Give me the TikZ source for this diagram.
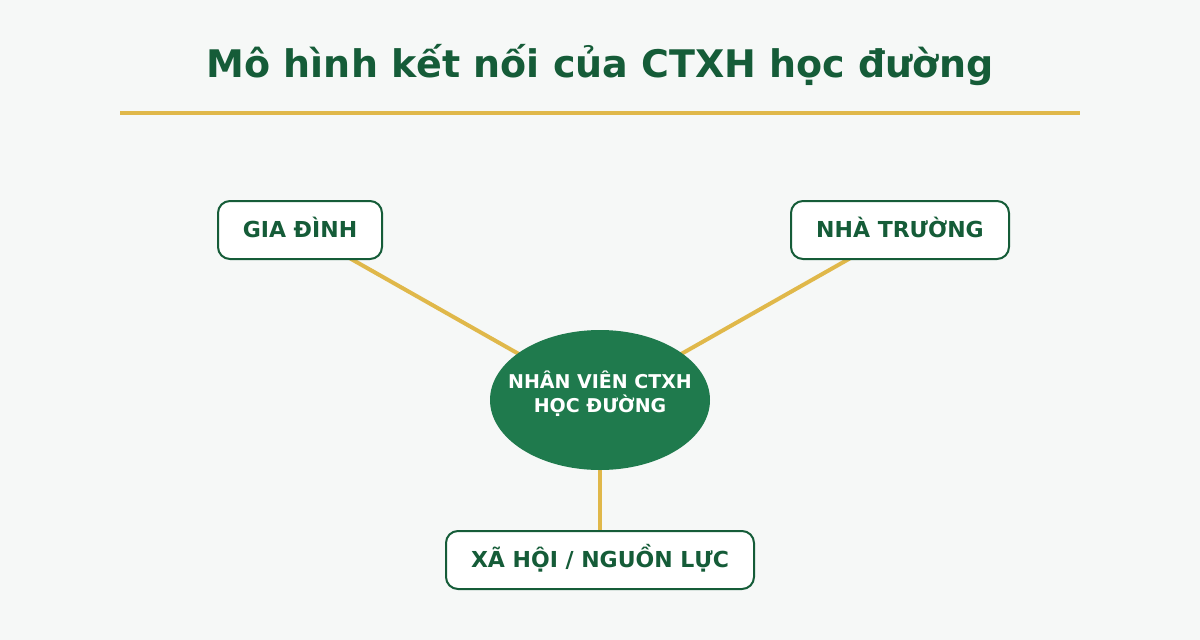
\documentclass[tikz,border=0pt]{standalone}
\usepackage{fontspec}
\setmainfont{DejaVu Sans}
\usetikzlibrary{shapes.geometric,backgrounds}
\pgfdeclarelayer{canvas}
\pgfsetlayers{canvas,background,main}
\definecolor{bg}{HTML}{F6F8F7}
\definecolor{dgreen}{HTML}{155C38}
\definecolor{mgreen}{HTML}{1F7A4D}
\definecolor{gold}{HTML}{E0B84A}
\begin{document}
\begin{tikzpicture}[x=1pt,y=-1pt,
  boxnode/.style={draw=dgreen,line width=2pt,fill=white,rounded corners=12pt,
    minimum height=58pt,inner sep=0pt,text=dgreen,text height=16pt,text depth=2pt,
    font=\fontsize{22}{26}\selectfont\bfseries},
  ctext/.style={text=white,anchor=base,inner sep=0pt,font=\fontsize{19}{24}\selectfont\bfseries},
  link/.style={draw=gold,line width=4pt}]
\begin{pgfonlayer}{canvas}
\fill[bg] (0,0) rectangle (1200,640);
\end{pgfonlayer}
\useasboundingbox (0,0) rectangle (1200,640);
\node[text=dgreen,font=\fontsize{38}{44}\selectfont\bfseries] (title) at (600,65) {Mô hình kết nối của CTXH học đường};
\coordinate (rl) at (120,113);
\coordinate (rr) at (1080,113);
\draw[gold,line width=3.5pt] (rl) -- (rr);
\node[boxnode,minimum width=164pt] (gia) at (300,230) {GIA ĐÌNH};
\node[boxnode,minimum width=218pt] (nha) at (900,230) {NHÀ TRƯỜNG};
\node[boxnode,minimum width=308pt] (xa) at (600,560) {XÃ HỘI / NGUỒN LỰC};
\node[ellipse,fill=mgreen,minimum width=220pt,minimum height=140pt,inner sep=0pt] (emp) at (600,400) {};
\node[ctext] (emptext1) at (600,388) {NHÂN VIÊN CTXH};
\node[ctext] (emptext2) at (600,412) {HỌC ĐƯỜNG};
\begin{scope}[on background layer]
\draw[link] (emp.center) -- (gia.center);
\draw[link] (emp.center) -- (nha.center);
\draw[link] (emp.center) -- (xa.center);
\end{scope}
\end{tikzpicture}
\end{document}
